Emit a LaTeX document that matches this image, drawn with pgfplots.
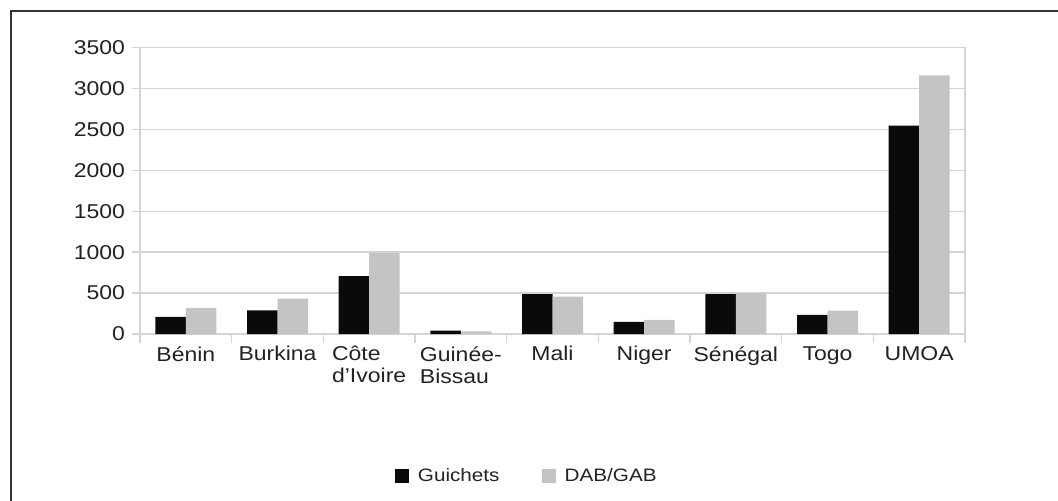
\documentclass[border=0pt]{standalone}
\usepackage{fontspec}
\setmainfont{Liberation Sans}[FakeStretch=1.15]
\usepackage{pgfplots}
\pgfplotsset{compat=1.18}
\definecolor{barblack}{HTML}{0A0A0A}
\definecolor{bargrey}{HTML}{C4C4C4}
\definecolor{gridgrey}{HTML}{D4D4D4}
\definecolor{txt}{HTML}{222222}
\definecolor{frame}{HTML}{333333}
\begin{document}
\begin{tikzpicture}
\path[use as bounding box] (0,0) rectangle (529pt,-250.5pt);
\draw[line width=1pt, frame] (5.5pt,-250.5pt) -- (5.5pt,-5.5pt) -- (529pt,-5.5pt);
\begin{axis}[
  at={(70pt,-167pt)}, anchor=south west,
  width=412.5pt, height=143.15pt, scale only axis,
  ybar=0pt, bar width=15.25pt,
  xmin=-0.5, xmax=8.5, ymin=0, ymax=3500,
  ytick={0,500,...,3500},
  xtick={0,...,8},
  xticklabels={B\'enin,Burkina,{C\^ote\\d'Ivoire},{Guin\'ee-\\Bissau},Mali,Niger,S\'en\'egal,Togo,UMOA},
  minor xtick={-0.5,0.5,...,8.5},
  major x tick style={draw=none},
  minor x tick style={gridgrey, line width=0.7pt},
  minor tick length=4.5pt,
  major tick length=4pt,
  tick align=outside,
  xtick pos=bottom, ytick pos=left,
  ytick style={gridgrey, line width=0.7pt},
  ymajorgrids, grid style={gridgrey, line width=0.7pt},
  axis line style={gridgrey, line width=0.7pt},
  /pgf/number format/assume math mode=true,
  /pgf/number format/1000 sep={},
  yticklabel style={font=\fontsize{10}{12}\selectfont, text=txt},
  xticklabel style={font=\fontsize{10}{11}\selectfont, text=txt, align=left, inner sep=2pt},
  legend style={at={(0.47,-0.496)}, anchor=center, draw=none, fill=none,
    legend columns=2, font=\fontsize{9}{11}\selectfont, text=txt,
    /tikz/every even column/.append style={column sep=19pt}},
  legend image code/.code={\fill[#1] (0pt,-3.6pt) rectangle (7.3pt,3.6pt); \path (9.5pt,0pt);},
]
\addplot[fill=barblack, draw=none] coordinates {(0,210) (1,290) (2,706) (3,40) (4,488) (5,149) (6,488) (7,234) (8,2548)};
\addplot[fill=bargrey, draw=none] coordinates {(0,319) (1,431) (2,988) (3,32) (4,456) (5,173) (6,496) (7,286) (8,3161)};
\legend{Guichets, DAB/GAB}
\end{axis}
\end{tikzpicture}
\end{document}
